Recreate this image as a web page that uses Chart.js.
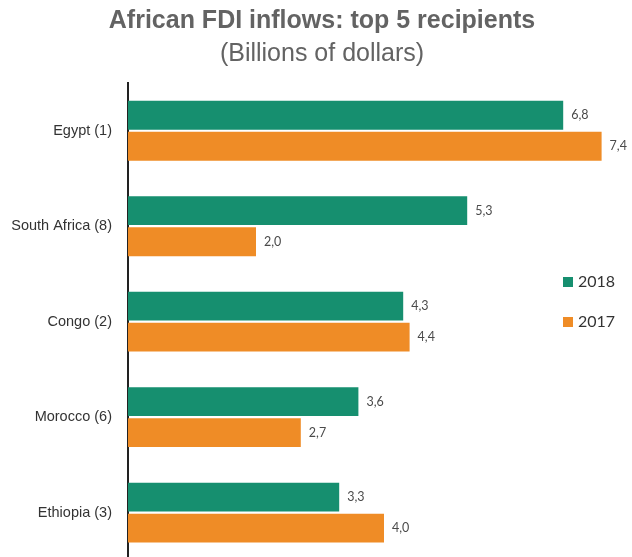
<!DOCTYPE html>
<html>
<head>
<meta charset="utf-8">
<script src="https://cdn.jsdelivr.net/npm/chart.js@4/dist/chart.umd.min.js"></script>
<style>
  html, body { margin: 0; padding: 0; background: #fff; overflow: hidden; }
  #wrap { position: absolute; left: 0; top: 0; width: 632px; height: 577px; }
</style>
</head>
<body>
<div id="wrap"><canvas id="c"></canvas></div>
<script>
// African FDI inflows, top 5 recipients (billions of dollars)
const COUNTRIES = ["Egypt (1)", "South Africa (8)", "Congo (2)", "Morocco (6)", "Ethiopia (3)"];
const FDI_2018 = [6.8, 5.3, 4.3, 3.6, 3.3];
const FDI_2017 = [7.4, 2.0, 4.4, 2.7, 4.0];

const GREEN = "#168f6f", ORANGE = "#ef8c26", GREY = "#636363";

// comma decimals, like the source
const fmtDec = (v) => v.toFixed(1).replace(".", ",");

const valueLabels = {
  id: "valueLabels",
  afterDatasetsDraw(chart) {
    const ctx = chart.ctx;
    ctx.save();
    ctx.font = "12.5px Lato, 'Open Sans', sans-serif";
    ctx.fillStyle = "#4a4a4a";
    ctx.textAlign = "left";
    ctx.textBaseline = "middle";
    chart.data.datasets.forEach((ds, i) => {
      chart.getDatasetMeta(i).data.forEach((bar, j) => {
        ctx.fillText(fmtDec(ds.data[j]), bar.x + 8, bar.y);
      });
    });
    ctx.restore();
  }
};

const sideLegend = {
  id: "sideLegend",
  afterDraw(chart) {
    const ctx = chart.ctx;
    ctx.save();
    ctx.font = "16px Lato, 'Open Sans', sans-serif";
    ctx.textBaseline = "middle";
    chart.data.datasets.forEach((ds, i) => {
      const y = 282 + i * 40;
      ctx.fillStyle = ds.backgroundColor;
      ctx.fillRect(563, y - 5, 10, 10);
      ctx.fillStyle = "#333";
      ctx.fillText(ds.label, 578, y);
    });
    ctx.restore();
  }
};

new Chart(document.getElementById("c"), {
  type: "bar",
  data: {
    labels: COUNTRIES,
    datasets: [
      { label: "2018", data: FDI_2018, backgroundColor: GREEN },
      { label: "2017", data: FDI_2017, backgroundColor: ORANGE }
    ]
  },
  options: {
    indexAxis: "y",
    responsive: true,
    maintainAspectRatio: false,
    animation: false,
    layout: { padding: { top: 0, right: 0, bottom: 0, left: 12 } },
    datasets: { bar: { categoryPercentage: 0.65, barPercentage: 0.93 } },
    plugins: {
      legend: { display: false },
      tooltip: { enabled: false },
      title: {
        display: true,
        text: "African FDI inflows: top 5 recipients",
        color: GREY,
        font: { family: "'Liberation Sans', Arial, sans-serif", size: 25, weight: "bold" },
        padding: { top: 6, bottom: 3 }
      },
      subtitle: {
        display: true,
        text: "(Billions of dollars)",
        color: GREY,
        font: { family: "'Liberation Sans', Arial, sans-serif", size: 25 },
        padding: { top: 0, bottom: 14 }
      }
    },
    scales: {
      x: { display: false, min: 0, max: 7.875 },
      y: {
        grid: { display: false },
        border: { display: true, color: "#222", width: 2 },
        afterFit: (scale) => { scale.width = 116; },
        ticks: {
          color: "#333",
          padding: 8,
          font: { family: "'Liberation Sans', Arial, sans-serif", size: 14.5 }
        }
      }
    }
  },
  plugins: [valueLabels, sideLegend]
});
</script>
</body>
</html>
